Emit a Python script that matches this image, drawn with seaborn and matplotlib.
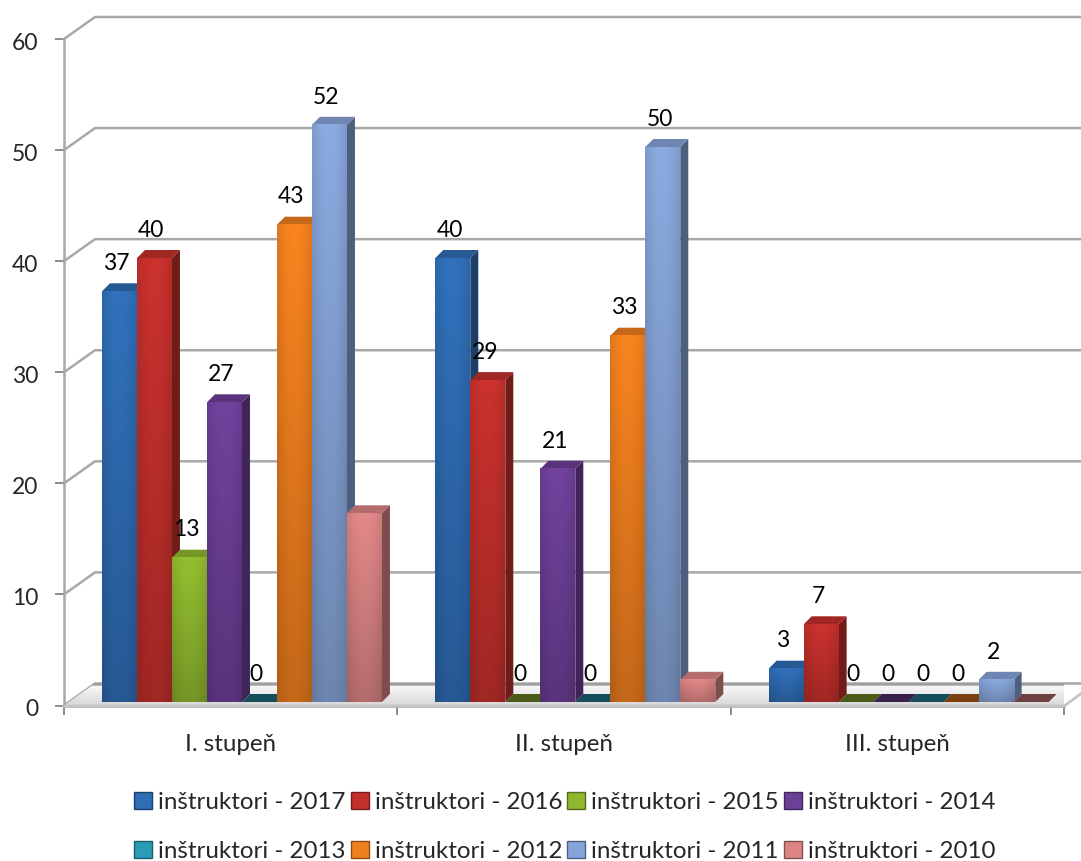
import numpy as np
import pandas as pd
import seaborn as sns
import matplotlib
matplotlib.use("Agg")
import matplotlib.pyplot as plt
from matplotlib.colors import to_rgb
from matplotlib.patches import Patch, Polygon
from matplotlib.transforms import ScaledTranslation

categories = ["I. stupeň", "II. stupeň", "III. stupeň"]
series = ["inštruktori - 2017", "inštruktori - 2016", "inštruktori - 2015", "inštruktori - 2014",
          "inštruktori - 2013", "inštruktori - 2012", "inštruktori - 2011", "inštruktori - 2010"]
v2017 = [37, 40, 3]
v2016 = [40, 29, 7]
v2015 = [13, 0, 0]
v2014 = [27, 21, 0]
v2013 = [0, 0, 0]
v2012 = [43, 33, 0]
v2011 = [52, 50, 2]
v2010 = [17, 2, 0]
values = [v2017, v2016, v2015, v2014, v2013, v2012, v2011, v2010]
colors = ["#2f6db5", "#c4302c", "#8fb82e", "#6d4098", "#2a9cb4", "#f07f1e", "#86a4d8", "#dc8484"]
yticks = [0, 10, 20, 30, 40, 50, 60]

W, H = 1081, 861
GRID = "#a8a8a8"
FONT = 16.5


def pos(left, top, right, bottom):
    return [left / W, 1 - bottom / H, (right - left) / W, (bottom - top) / H]


def shade(col, f):
    return tuple(min(1, c * f) for c in to_rgb(col))


df = pd.DataFrame({
    "stupen": categories * len(series),
    "seria": [s for s in series for _ in categories],
    "pocet": [v for row in values for v in row],
})

sns.set_style("white")
plt.rcParams["font.family"] = ["Lato", "DejaVu Sans"]
fig = plt.figure(figsize=(W / 100, H / 100), dpi=100)

# steny a podlaha
bg = fig.add_axes(pos(64, 39, 1064, 705.5))
bg.set_xlim(-0.5, 2.5)
bg.set_ylim(0, 60)
back_x = 31 / 1000 * 3
back_y = 22 / (666 / 60)
for s in ["top", "right"]:
    bg.spines[s].set_visible(False)
for s in ["left", "bottom"]:
    bg.spines[s].set_color(GRID)
    bg.spines[s].set_linewidth(1.8)
for t in yticks:
    bg.plot([-0.5, -0.5 + back_x, 2.75], [t, t + back_y, t + back_y], color=GRID, lw=1.8,
            clip_on=False, zorder=1, solid_joinstyle="miter")
floor = Polygon([(-0.5, 0), (2.5, 0), (2.5 + back_x, back_y), (-0.5 + back_x, back_y)],
                closed=True, transform=bg.transData, fc="none", ec="none")
bg.add_patch(floor)
grad = np.linspace(0.99, 0.84, 60).reshape(-1, 1)
grad[:7] = 0.62
im = bg.imshow(grad, extent=[-0.5, 2.5 + back_x, 0, back_y], origin="upper", cmap="gray", vmin=0, vmax=1,
               aspect="auto", zorder=2, clip_on=True)
im.set_clip_path(floor)
bg.plot([-0.5, 2.5, 2.5 + back_x], [-0.05, -0.05, back_y], color="#c4c4c4", lw=2, zorder=3, clip_on=False)
bg.set_xlim(-0.5, 2.5)
bg.set_ylim(0, 60)
bg.set_yticks(yticks)
bg.set_xticks([-0.5, 0.5, 1.5, 2.5])
bg.set_xticklabels([])
bg.set_xticks([0, 1, 2], labels=categories, minor=True)
bg.tick_params(axis="y", length=6.5, width=1.4, color="#8c8c8c", left=True, labelsize=FONT, pad=12)
bg.tick_params(axis="x", which="major", length=6.5, width=1.4, color="#8c8c8c", bottom=True)
bg.tick_params(axis="x", which="minor", length=0, labelsize=17.4, pad=20.5)
for lbl in bg.get_yticklabels():
    lbl.set_transform(lbl.get_transform() + ScaledTranslation(0, -2.5 / 100, fig.dpi_scale_trans))

# stlpce
ax = fig.add_axes(pos(75.3, 36, 1075.3, 702))
ax.patch.set_alpha(0)
sns.barplot(data=df, x="stupen", y="pocet", hue="seria", hue_order=series, palette=colors,
            width=0.84, saturation=1, legend=False, ax=ax, zorder=5, linewidth=0)
ax.set_xlim(-0.5, 2.5)
ax.set_ylim(0, 60)
ax.set_axis_off()

depth_x = 8 * 3 / 1000
depth_y = 8 * 60 / 666
z = 5
for cont, col, vals in zip(ax.containers, colors, values):
    for bar, v in zip(cont, vals):
        x0, w = bar.get_x(), bar.get_width()
        x1 = x0 + w
        z += 1
        bar.set_zorder(z)
        side = Polygon([(x1, 0), (x1 + depth_x, depth_y), (x1 + depth_x, v + depth_y), (x1, v)],
                       fc=shade(col, 0.58), ec="none", zorder=z)
        cap = Polygon([(x0, v), (x1, v), (x1 + depth_x, v + depth_y), (x0 + depth_x, v + depth_y)],
                      fc=shade(col, 0.82 if v > 0 else 0.5), ec="none", zorder=z)
        if v > 0:
            ax.add_patch(side)
        ax.add_patch(cap)
        if v > 0:
            # prechod farby - hore svetlejsie, dole tmavsie
            ny, nx = 40, 24
            fy = np.linspace(1.04, 0.82, ny).reshape(-1, 1)
            fx = 1 - 0.10 * np.abs(np.linspace(-1, 1, nx)) ** 2
            rgb = np.clip(np.array(to_rgb(col))[None, None, :] * (fy * fx)[:, :, None], 0, 1)
            ax.imshow(rgb, extent=[x0, x1, 0, v], aspect="auto", zorder=z + 0.1, interpolation="bilinear")
        z += 1

# popisky - posledna seria ich nema
for cont, vals in zip(ax.containers[:-1], values[:-1]):
    for bar, v in zip(cont, vals):
        ax.annotate(str(v), (bar.get_x() + bar.get_width() / 2, v), xytext=(-2.2, 20),
                    textcoords="offset points", ha="center", va="center",
                    fontsize=FONT, color="black", zorder=200)
ax.set_xlim(-0.5, 2.5)
ax.set_ylim(0, 60)

# legenda sa plni po stlpcoch, poradie treba prehodit aby riadky sedeli
order = [0, 4, 1, 5, 2, 6, 3, 7]
handles = [Patch(facecolor=colors[i], edgecolor=shade(colors[i], 0.6), linewidth=1) for i in order]
labels = [series[i] for i in order]
fig.legend(handles, labels, ncol=4, loc="center", bbox_to_anchor=(565 / W, 1 - 827 / H), frameon=False,
           fontsize=17.4, handlelength=0.75, handleheight=0.7, handletextpad=0.25, columnspacing=0.2,
           labelspacing=1.125, borderpad=0)

fig.savefig("out.png", dpi=100)
